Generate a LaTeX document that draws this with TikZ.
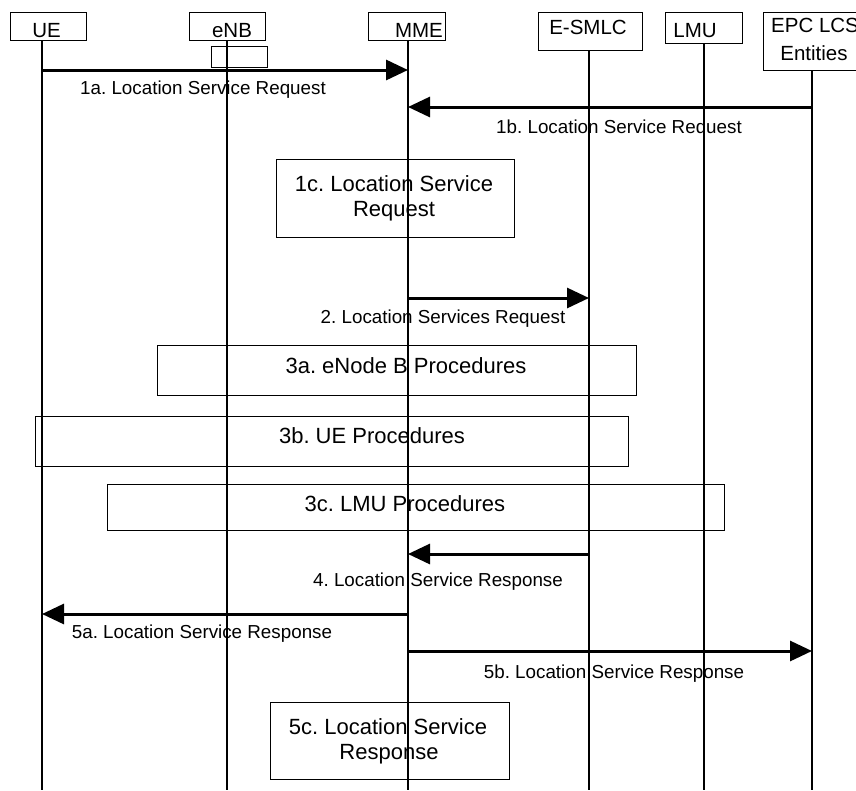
\documentclass[tikz,border=0pt]{standalone}
\usepackage{fontspec}
\setmainfont{Liberation Sans}
\usetikzlibrary{arrows.meta}
\frenchspacing
\begin{document}
\begin{tikzpicture}[x=1pt,y=-1pt,
  box/.style={draw,line width=1pt,inner sep=0pt,outer sep=0pt},
  life/.style={line width=1.1pt},
  msg/.style={line width=3pt,-{Triangle[length=22pt,width=20pt]}},
  hdr/.style={font=\fontsize{20.5}{24}\selectfont,inner sep=0pt,anchor=base},
  lbl/.style={font=\fontsize{18.8}{22}\selectfont,inner sep=0pt,anchor=base},
  btxt/.style={font=\fontsize{22}{25}\selectfont,inner sep=0pt,anchor=base}]
\useasboundingbox (0,0) rectangle (856,790);
\clip (0,0) rectangle (856,790);

% header boxes
\node[box,minimum width=76pt,minimum height=28pt] (ueB) at (48,26) {};
\node[box,minimum width=76pt,minimum height=28pt] (enbB) at (227,26) {};
\node[box,minimum width=77pt,minimum height=28pt] (mmeB) at (406.5,26) {};
\node[box,minimum width=104pt,minimum height=38pt] (smB) at (590,31) {};
\node[box,minimum width=77pt,minimum height=31pt] (lmuB) at (703.5,27.5) {};
\node[box,minimum width=147pt,minimum height=58pt] (epcB) at (836.5,41) {};
\node[box,minimum width=56pt,minimum height=21pt] (enbS) at (239,56.5) {};

% header texts
\node[hdr] (ueT) at (46.5,37) {UE};
\node[hdr] (enbT) at (232,37) {eNB};
\node[hdr] (mmeT) at (419,37) {MME};
\node[hdr] (smT) at (588,34) {E-SMLC};
\node[hdr] (lmuT) at (695,37) {LMU};
\node[hdr,anchor=base west] (epcT1) at (771,32) {EPC LCS};
\node[hdr] (epcT2) at (814,60) {Entities};

% lifeline anchors
\coordinate (lUE) at (42,40);
\coordinate (lENB) at (227,40);
\coordinate (lMME) at (408,40);
\coordinate (lSM) at (589,50);
\coordinate (lLMU) at (704,43);
\coordinate (lEPC) at (812,70);
\coordinate (bot) at (0,790);

\foreach \l in {lUE,lENB,lMME,lSM,lLMU,lEPC}
  \draw[life] (\l) -- (\l |- bot);

% procedure boxes
\node[box,minimum width=238pt,minimum height=78pt] (b1c) at (395,198) {};
\node[box,minimum width=479pt,minimum height=50pt] (b3a) at (396.5,370) {};
\node[box,minimum width=593pt,minimum height=50pt] (b3b) at (331.5,441) {};
\node[box,minimum width=617pt,minimum height=46pt] (b3c) at (415.5,507) {};
\node[box,minimum width=239pt,minimum height=77pt] (b5c) at (389.5,740.5) {};

\node[btxt] (t1c1) at (394,191) {1c. Location Service};
\node[btxt] (t1c2) at (394,216) {Request};
\node[btxt] (t3a) at (406,373) {3a. eNode B Procedures};
\node[btxt] (t3b) at (372,443) {3b. UE Procedures};
\node[btxt] (t3c) at (405,511) {3c. LMU Procedures};
\node[btxt] (t5c1) at (388,734) {5c. Location Service};
\node[btxt] (t5c2) at (389,759) {Response};

% message rows
\coordinate (y1a) at (0,70);
\coordinate (y1b) at (0,107);
\coordinate (y2) at (0,298);
\coordinate (y4) at (0,554);
\coordinate (y5a) at (0,614);
\coordinate (y5b) at (0,651);

\draw[msg] (lUE |- y1a) -- (lMME |- y1a);
\draw[msg] (lEPC |- y1b) -- (lMME |- y1b);
\draw[msg] (lMME |- y2) -- (lSM |- y2);
\draw[msg] (lSM |- y4) -- (lMME |- y4);
\draw[msg] (lMME |- y5a) -- (lUE |- y5a);
\draw[msg] (lMME |- y5b) -- (lEPC |- y5b);

\node[lbl] (m1a) at (203,94) {1a. Location Service Request};
\node[lbl] (m1b) at (619,133) {1b. Location Service Request};
\node[lbl] (m2) at (443,323) {2. Location Services Request};
\node[lbl] (m4) at (438,586) {4. Location Service Response};
\node[lbl] (m5a) at (202,638) {5a. Location Service Response};
\node[lbl] (m5b) at (614,678) {5b. Location Service Response};
\end{tikzpicture}
\end{document}
